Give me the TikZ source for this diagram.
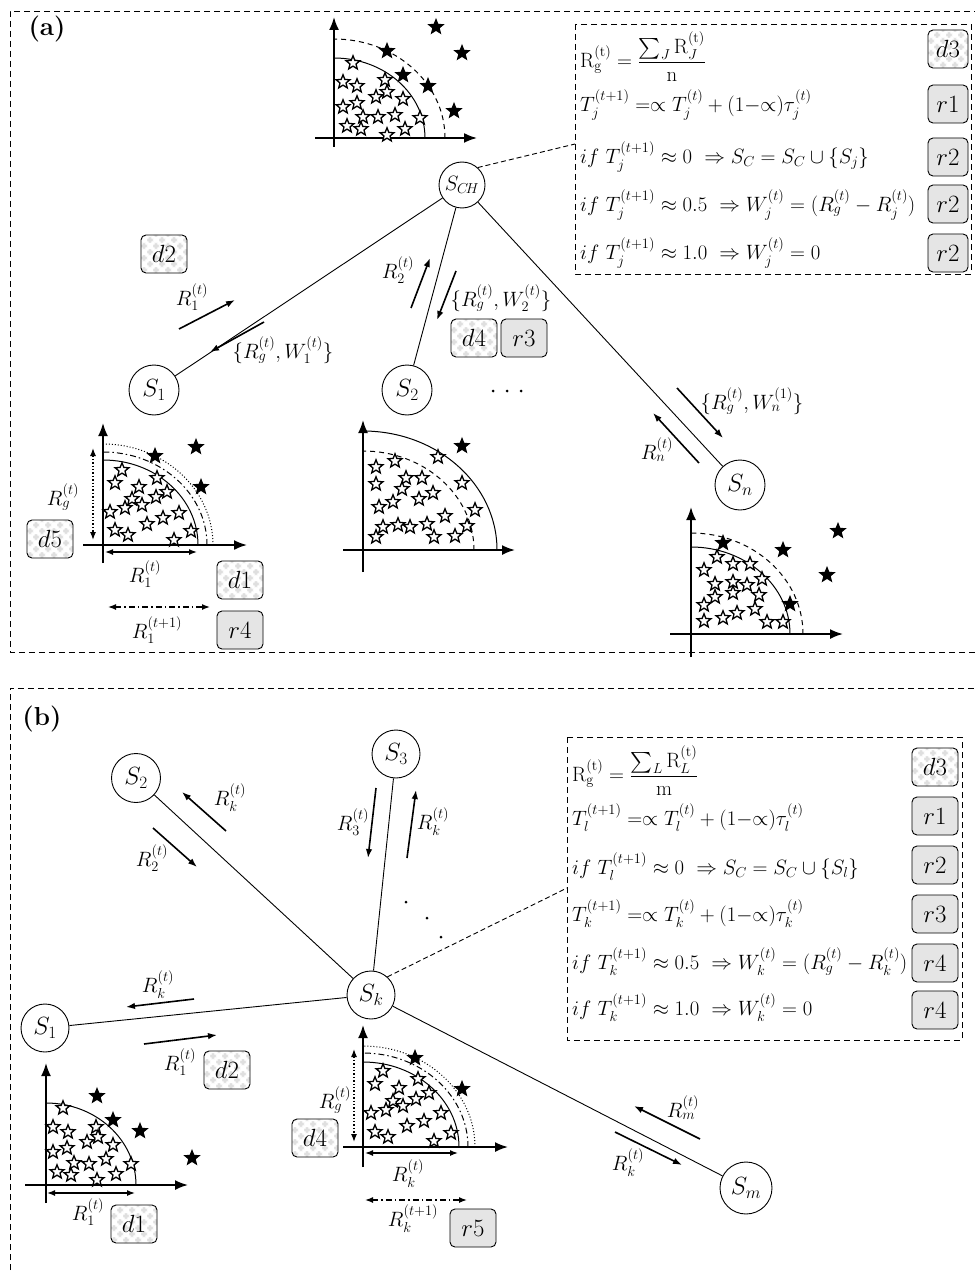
\documentclass[tikz,border=0pt]{standalone}
\usepackage{amsmath}
\usetikzlibrary{shapes.geometric,arrows.meta}
\newcommand\rowfont{\fontsize{21}{25}\selectfont}
\begin{document}
\begin{tikzpicture}[x=1pt,y=-1pt,
  every node/.style={font=\fontsize{20}{24}\selectfont},
  station/.style={circle,draw,line width=0.9pt,minimum size=50pt,inner sep=0pt,font=\fontsize{23}{27}\selectfont},
  link/.style={line width=0.9pt},
  msg/.style={line width=1.6pt,-{Latex[length=9pt,width=6.5pt]}},
  axis/.style={line width=1.8pt,-{Latex[length=13pt,width=10pt]}},
  span/.style={line width=1.4pt,{Latex[length=8pt,width=6pt]}-{Latex[length=8pt,width=6pt]}},
  dashdot/.style={dash pattern=on 6pt off 3pt on 1.5pt off 3pt},
  wstar/.style={star,star points=5,star point ratio=2.3,draw,line width=1.3pt,fill=white,minimum size=14.5pt,inner sep=0pt},
  bstar/.style={wstar,fill=black},
  badge/.style={draw,line width=0.9pt,rounded corners=5pt,minimum width=46pt,minimum height=38pt,inner sep=0pt,font=\fontsize{24}{28}\selectfont},
  rbadge/.style={badge,fill=gray!20},
  dbadge/.style={badge,fill=white,path picture={
      \foreach \i in {0,...,8}{\foreach \j in {0,...,7}{
        \pgfmathtruncatemacro\cellpar{mod(\i+\j,2)}
        \ifnum\cellpar=0
          \fill[gray!25] ([shift={(\i*6pt,\j*6pt)}]path picture bounding box.south west) rectangle ++(6pt,6pt);
        \fi}}}},
  panel/.style={line width=0.9pt,dash pattern=on 6pt off 4pt},
  rule/.style={anchor=west,inner sep=0pt,font=\rowfont},
  tag/.style={font=\fontsize{26}{30}\selectfont\bfseries},
]
\fill[white] (0,0) rectangle (974,1273);
\useasboundingbox (0,0) rectangle (974,1273);

% ---------------- panel (a) ----------------
\draw[panel] (980,11) -- (10,11) -- (10,652) -- (980,652);
\node[tag] (taga) at (47,29) {(a)};

% rule box of the cluster head
\draw[panel] (575,24) rectangle (971,274);
\coordinate (boxa) at (575,144);
\node[rule] (ra1) at (580,57) {$\mathrm{R}_{\mathrm{g}}^{(\mathrm{t})} = \dfrac{\sum_J \mathrm{R}_J^{(\mathrm{t})}}{\mathrm{n}}$};
\node[rule] (ra2) at (580,105) {$T_j^{(t+1)} =\propto T_j^{(t)} + (1{-}{\propto})\tau_j^{(t)}$};
\node[rule] (ra3) at (580,157) {$if\ T_j^{(t+1)} \approx 0\ \Rightarrow S_C = S_C \cup \{S_j\}$};
\node[rule] (ra4) at (580,205) {$if\ T_j^{(t+1)} \approx 0.5\ \Rightarrow W_j^{(t)} = (R_g^{(t)} - R_j^{(t)})$};
\node[rule] (ra5) at (580,253) {$if\ T_j^{(t+1)} \approx 1.0\ \Rightarrow W_j^{(t)} = 0$};
\node[dbadge,minimum width=40pt] (ba1) at (948,49) {$d3$};
\node[rbadge,minimum width=40pt] (ba2) at (948,104) {$r1$};
\node[rbadge,minimum width=40pt] (ba3) at (948,157) {$r2$};
\node[rbadge,minimum width=40pt] (ba4) at (948,204) {$r2$};
\node[rbadge,minimum width=40pt] (ba5) at (948,253) {$r2$};

% sensors
\node[station,minimum size=46pt,font=\fontsize{21}{25}\selectfont] (sch) at (462,185) {$S_{C\!H}$};
\node[station] (s1a) at (154,390) {$S_1$};
\node[station] (s2a) at (407,390) {$S_2$};
\node[station] (sna) at (740,485) {$S_n$};
\draw[link] (sch) -- (s1a);
\draw[link] (sch) -- (s2a);
\draw[link] (sch) -- (sna);
\draw[link,dash pattern=on 5pt off 3pt] (sch.48) -- (boxa);
\fill (493,391) circle (1.5pt) (507,391) circle (1.5pt) (521,391) circle (1.5pt);

% messages
\draw[msg] (179,329) -- (235,300);
\node (la1) at (192,297) {$R_1^{(t)}$};
\draw[msg] (264,322) -- (210,352);
\node (la2) at (283,350) {$\{R_g^{(t)},W_1^{(t)}\}$};
\draw[msg] (411,308) -- (430,258);
\node (la3) at (398,270) {$R_2^{(t)}$};
\draw[msg] (456,271) -- (437,320);
\node (la4) at (501,298) {$\{R_g^{(t)},W_2^{(t)}\}$};
\draw[msg] (677,388) -- (723,438);
\node (la5) at (752,401) {$\{R_g^{(t)},W_n^{(1)}\}$};
\draw[msg] (699,463) -- (653,413);
\node (la6) at (657,450) {$R_n^{(t)}$};
\node[dbadge] (da2) at (164,254) {$d2$};
\node[dbadge] (da4) at (474,338) {$d4$};
\node[rbadge] (ra3b) at (524,338) {$r3$};

% cluster-head range plot
\draw[axis] (315,138) -- (477,138);
\draw[axis] (334,147) -- (334,17);
\draw[line width=1pt] (425,138) arc[start angle=0,end angle=90,x radius=91pt,y radius=80pt];
\draw[line width=1pt,dash pattern=on 5pt off 4pt] (445,138) arc[start angle=0,end angle=90,x radius=111pt,y radius=99pt];
\foreach \x/\y [count=\i] in {353/63,343/82,357/86,385/80,387/92,376/97,403/99,343/107,357/103,363/117,378/117,395/115,347/126,361/129,387/135,405/129,420/118}
  \node[wstar] (wt\i) at (\x,\y) {};
\foreach \x/\y [count=\i] in {387/51,403/75,428/86,436/27,462/53,454/111}
  \node[bstar] (bt\i) at (\x,\y) {};

% S1 range plot
\draw[axis] (83,545) -- (247,545);
\draw[axis] (103,563) -- (103,423);
\draw[line width=1pt] (198,545) arc[start angle=0,end angle=90,x radius=95pt,y radius=85pt];
\draw[line width=1pt,dashdot] (207,545) arc[start angle=0,end angle=90,x radius=104pt,y radius=93pt];
\draw[line width=1pt,dotted] (213,545) arc[start angle=0,end angle=90,x radius=110pt,y radius=101pt];
\foreach \x/\y [count=\i] in {122/470,115/483,139/487,157/478,167/492,156/497,132/499,142/505,125/508,110/512,179/513,163/518,147/524,115/530,128/535,174/540,191/531}
  \node[wstar] (wo\i) at (\x,\y) {};
\foreach \x/\y [count=\i] in {155/456,196/447,201/487}
  \node[bstar] (bo\i) at (\x,\y) {};
\draw[span,dotted,line width=1.3pt] (93,448) -- (93,540);
\node (lga) at (63,497) {$R_g^{(t)}$};
\draw[span] (105,552) -- (197,552);
\node (l1a) at (145,574) {$R_1^{(t)}$};
\draw[span,dashdot] (108,607) -- (210,607);
\node (l1b) at (157,630) {$R_1^{(t+1)}$};
\node[dbadge] (da5) at (50,539) {$d5$};
\node[dbadge] (da1) at (240,580) {$d1$};
\node[rbadge] (ra4b) at (240,630) {$r4$};

% S2 range plot
\draw[axis] (343,550) -- (515,550);
\draw[axis] (363,572) -- (363,420);
\draw[line width=1pt] (497,550) arc[start angle=0,end angle=90,x radius=134pt,y radius=119pt];
\draw[line width=1pt,dash pattern=on 5pt off 4pt] (474,550) arc[start angle=0,end angle=90,x radius=111pt,y radius=99pt];
\foreach \x/\y [count=\i] in {395/461,438/457,376/467,376/484,406/478,422/478,402/489,462/483,433/493,419/499,393/502,379/507,475/510,445/516,383/527,398/525,410/527,427/524,467/526,376/537,434/537,455/536}
  \node[wstar] (wu\i) at (\x,\y) {};
\node[bstar] (bu1) at (462,446) {};

% Sn range plot
\draw[axis] (670,634) -- (843,634);
\draw[axis] (691,657) -- (691,507);
\draw[line width=1pt] (790,634) arc[start angle=0,end angle=90,x radius=99pt,y radius=87pt];
\draw[line width=1pt,dash pattern=on 5pt off 4pt] (803,634) arc[start angle=0,end angle=90,x radius=112pt,y radius=101pt];
\foreach \x/\y [count=\i] in {717/557,733/564,750/564,704/570,715/584,733/582,747/585,762/579,733/593,715/597,759/595,704/605,755/609,737/613,723/618,704/621,767/622,783/622}
  \node[wstar] (wn\i) at (\x,\y) {};
\foreach \x/\y [count=\i] in {723/543,783/550,838/531,827/575,790/604}
  \node[bstar] (bn\i) at (\x,\y) {};

% ---------------- panel (b) ----------------
\draw[panel] (10,1290) -- (10,688) -- (980,688);
\node[tag] (tagb) at (42,719) {(b)};

\draw[panel] (567,737) rectangle (962,1040);
\coordinate (boxb) at (567,888);
\node[rule] (rb1) at (572,771) {$\mathrm{R}_{\mathrm{g}}^{(\mathrm{t})} = \dfrac{\sum_L \mathrm{R}_L^{(\mathrm{t})}}{\mathrm{m}}$};
\node[rule] (rb2) at (572,818) {$T_l^{(t+1)} =\propto T_l^{(t)} + (1{-}{\propto})\tau_l^{(t)}$};
\node[rule] (rb3) at (572,867) {$if\ T_l^{(t+1)} \approx 0\ \Rightarrow S_C = S_C \cup \{S_l\}$};
\node[rule] (rb4) at (572,914) {$T_k^{(t+1)} =\propto T_k^{(t)} + (1{-}{\propto})\tau_k^{(t)}$};
\node[rule] (rb5) at (572,962) {$if\ T_k^{(t+1)} \approx 0.5\ \Rightarrow W_k^{(t)} = (R_g^{(t)} - R_k^{(t)})$};
\node[rule] (rb6) at (572,1008) {$if\ T_k^{(t+1)} \approx 1.0\ \Rightarrow W_k^{(t)} = 0$};
\node[dbadge] (bb1) at (935,767) {$d3$};
\node[rbadge] (bb2) at (935,816) {$r1$};
\node[rbadge] (bb3) at (935,865) {$r2$};
\node[rbadge] (bb4) at (935,914) {$r3$};
\node[rbadge] (bb5) at (935,963) {$r4$};
\node[rbadge] (bb6) at (935,1010) {$r4$};

\node[station,minimum size=49pt] (s2b) at (136,778) {$S_2$};
\node[station,minimum size=48pt] (s3b) at (396,754) {$S_3$};
\node[station,minimum size=48pt] (skb) at (371,995) {$S_k$};
\node[station,minimum size=48pt] (s1b) at (45,1028) {$S_1$};
\node[station,minimum size=52pt] (smb) at (746,1188) {$S_m$};
\draw[link] (skb) -- (s2b);
\draw[link] (skb) -- (s3b);
\draw[link] (skb) -- (s1b);
\draw[link] (skb) -- (smb);
\draw[link,dash pattern=on 5pt off 3pt] (skb.48) -- (boxb);
\fill (406,902) circle (1.5pt) (427,918) circle (1.5pt) (441,937) circle (1.5pt);

\draw[msg] (226,831) -- (182,792);
\node (lb1) at (230,798) {$R_k^{(t)}$};
\draw[msg] (153,828) -- (197,867);
\node (lb2) at (152,858) {$R_2^{(t)}$};
\draw[msg] (376,788) -- (368,858);
\node (lb3) at (353,822) {$R_3^{(t)}$};
\draw[msg] (407,858) -- (416,790);
\node (lb4) at (433,822) {$R_k^{(t)}$};
\draw[msg] (194,999) -- (126,1007);
\node (lb5) at (158,985) {$R_k^{(t)}$};
\draw[msg] (144,1044) -- (217,1035);
\node (lb6) at (180,1062) {$R_1^{(t)}$};
\draw[msg] (700,1139) -- (634,1106);
\node (lb7) at (683,1108) {$R_m^{(t)}$};
\draw[msg] (615,1132) -- (682,1165);
\node (lb8) at (628,1163) {$R_k^{(t)}$};
\node[dbadge] (db2) at (227,1070) {$d2$};

% Sk range plot
\draw[axis] (343,1147) -- (508,1147);
\draw[axis] (363,1167) -- (363,1025);
\draw[line width=1pt] (459,1147) arc[start angle=0,end angle=90,x radius=96pt,y radius=85pt];
\draw[line width=1pt,dashdot] (468,1147) arc[start angle=0,end angle=90,x radius=105pt,y radius=94pt];
\draw[line width=1pt,dotted] (475,1147) arc[start angle=0,end angle=90,x radius=112pt,y radius=101pt];
\foreach \x/\y [count=\i] in {383/1071,375/1084,399/1088,418/1079,429/1093,416/1099,393/1101,403/1106,386/1110,371/1113,441/1113,424/1121,407/1126,375/1132,388/1137,434/1141,451/1133}
  \node[wstar] (wk\i) at (\x,\y) {};
\foreach \x/\y [count=\i] in {415/1058,462/1089}
  \node[bstar] (bk\i) at (\x,\y) {};
\draw[span,dotted,line width=1.3pt] (354,1049) -- (354,1142);
\node (lgk) at (335,1100) {$R_g^{(t)}$};
\draw[span] (365,1153) -- (458,1153);
\node (lkk) at (408,1174) {$R_k^{(t)}$};
\draw[span,dashdot] (365,1200) -- (467,1200);
\node (lkn) at (413,1219) {$R_k^{(t+1)}$};
\node[dbadge] (db4) at (315,1138) {$d4$};
\node[rbadge] (rb5b) at (473,1228) {$r5$};

% S1 range plot
\draw[axis] (25,1185) -- (188,1185);
\draw[axis] (46,1203) -- (46,1063);
\draw[line width=1pt] (136,1185) arc[start angle=0,end angle=90,x radius=90pt,y radius=82pt];
\foreach \x/\y [count=\i] in {63/1108,53/1127,68/1132,96/1127,98/1137,87/1142,113/1145,53/1152,67/1148,74/1163,89/1164,106/1159,131/1164,57/1172,71/1175,97/1180,116/1174}
  \node[wstar] (wb\i) at (\x,\y) {};
\foreach \x/\y [count=\i] in {97/1096,113/1120,140/1131,192/1158}
  \node[bstar] (bb\i) at (\x,\y) {};
\draw[span] (47,1193) -- (135,1193);
\node (l1k) at (88,1212) {$R_1^{(t)}$};
\node[dbadge] (db1) at (134,1224) {$d1$};
\end{tikzpicture}
\end{document}
